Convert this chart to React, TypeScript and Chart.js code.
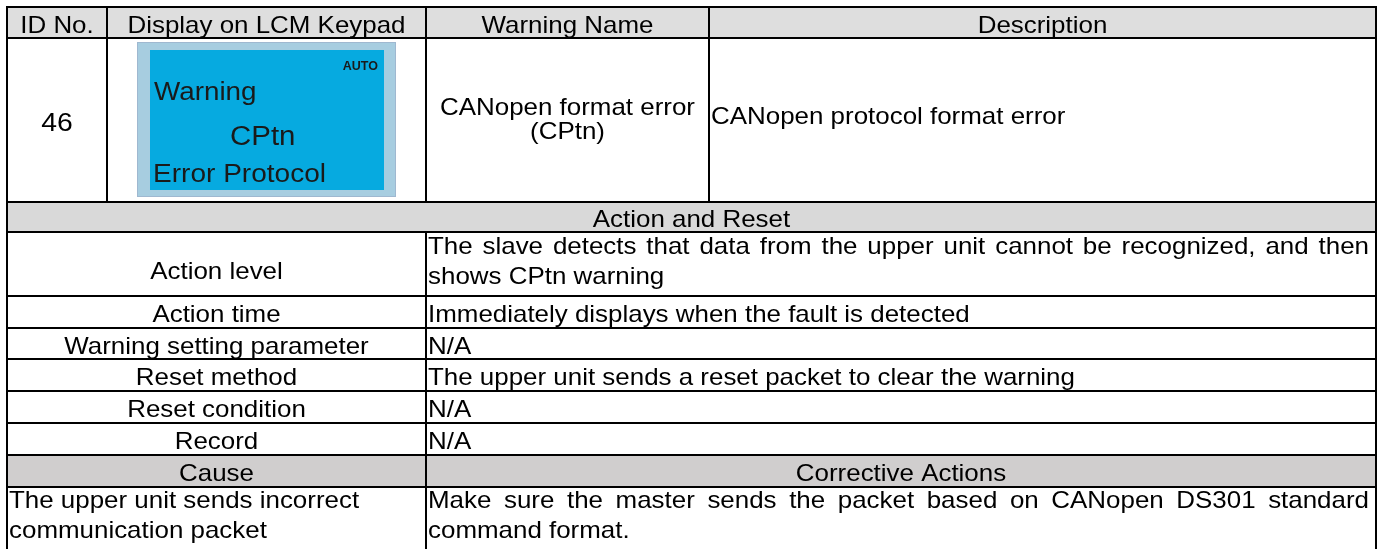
import React, { useEffect, useRef } from "react";
import { Chart, registerables } from "chart.js";

Chart.register(...registerables);

// ---------- data (text content) ----------
const headerLabels = ["ID No.", "Display on LCM Keypad", "Warning Name", "Description"];
const idNumber = "46";
const lcmMode = "AUTO";
const lcmLines = ["Warning", "CPtn", "Error Protocol"];
const warningNameLines = ["CANopen format error", "(CPtn)"];
const descriptionLines = ["CANopen protocol format error"];
const sectionTitle = "Action and Reset";
const actionLabels = [
  "Action level",
  "Action time",
  "Warning setting parameter",
  "Reset method",
  "Reset condition",
  "Record",
];
const actionValues = [
  ["The slave detects that data from the upper unit cannot be recognized, and then", "shows CPtn warning"],
  ["Immediately displays when the fault is detected"],
  ["N/A"],
  ["The upper unit sends a reset packet to clear the warning"],
  ["N/A"],
  ["N/A"],
];
const causeHeaders = ["Cause", "Corrective Actions"];
const causeLines = ["The upper unit sends incorrect", "communication packet"];
const correctiveLines = [
  "Make sure the master sends the packet based on CANopen DS301 standard",
  "command format.",
];

// ---------- layout (value space of the scales) ----------
const COLS = [7, 107, 426, 709, 1376];
const ROW_TOP = 7;
const ROW_HEAD = 38;
const ROW_LCM = 202;
const ROW_SECTION = 232;
const ACTION_ROWS = [296, 328, 359, 391, 423, 455];
const ROW_CAUSE = 487;
const ROW_END = 551;

const FONT = "'Liberation Sans', Arial, Helvetica, sans-serif";
const FS = 24;
const SX = 1.08;

const tablePlugin = {
  id: "tableDraw",
  afterDraw(chart: any) {
    const ctx: CanvasRenderingContext2D = chart.ctx;
    const xs = chart.scales.x;
    const ys = chart.scales.y;
    const X = (v: number) => xs.getPixelForValue(v);
    const Y = (v: number) => ys.getPixelForValue(v);

    const text = (s: string, x: number, y: number, align: CanvasTextAlign, font = `${FS}px ${FONT}`, sx = SX, color = "#000") => {
      ctx.save();
      ctx.font = font;
      ctx.fillStyle = color;
      ctx.textAlign = align;
      ctx.textBaseline = "alphabetic";
      ctx.translate(X(x), Y(y));
      ctx.scale(sx, 1);
      ctx.fillText(s, 0, 0);
      ctx.restore();
    };
    const justify = (s: string, x0: number, x1: number, y: number) => {
      ctx.save();
      ctx.font = `${FS}px ${FONT}`;
      ctx.fillStyle = "#000";
      ctx.textBaseline = "alphabetic";
      ctx.textAlign = "left";
      const words = s.split(" ");
      const widths = words.map((w) => ctx.measureText(w).width);
      const total = widths.reduce((a, b) => a + b, 0);
      const avail = (X(x1) - X(x0)) / SX;
      const gap = (avail - total) / (words.length - 1);
      ctx.translate(X(x0), Y(y));
      ctx.scale(SX, 1);
      let cx = 0;
      words.forEach((w, i) => {
        ctx.fillText(w, cx, 0);
        cx += widths[i] + gap;
      });
      ctx.restore();
    };
    const fillRect = (x0: number, y0: number, x1: number, y1: number, c: string) => {
      ctx.fillStyle = c;
      ctx.fillRect(X(x0), Y(y0), X(x1) - X(x0), Y(y1) - Y(y0));
    };
    const hline = (y: number, x0: number, x1: number) => {
      ctx.beginPath();
      ctx.moveTo(X(x0) - 1, Y(y));
      ctx.lineTo(X(x1) + 1, Y(y));
      ctx.stroke();
    };
    const vline = (x: number, y0: number, y1: number) => {
      ctx.beginPath();
      ctx.moveTo(X(x), Y(y0) - 1);
      ctx.lineTo(X(x), Y(y1) + 1);
      ctx.stroke();
    };
    const mid = (a: number, b: number) => (a + b) / 2;
    const base1 = (t: number, b: number) => mid(t, b) + 10;

    // background
    ctx.save();
    ctx.fillStyle = "#ffffff";
    ctx.fillRect(0, 0, chart.width, chart.height);

    // fills
    const L = COLS[0];
    const R = COLS[4];
    fillRect(L, ROW_TOP, R, ROW_HEAD, "#dedede");
    fillRect(L, ROW_LCM, R, ROW_SECTION, "#d9d9d9");
    const lastAction = ACTION_ROWS[ACTION_ROWS.length - 1];
    fillRect(L, lastAction, R, ROW_CAUSE, "#d0cece");

    // LCM keypad picture
    fillRect(137, 42, 396, 197, "#a7cde0");
    fillRect(150, 50, 384, 190, "#06aae0");
    ctx.strokeStyle = "#9fb8d0";
    ctx.lineWidth = 1;
    ctx.strokeRect(X(137) + 0.5, Y(42) + 0.5, X(396) - X(137) - 1, Y(197) - Y(42) - 1);
    text(lcmMode, 378, 70, "right", `bold 12.5px ${FONT}`, 1.0, "#1a1a1a");
    text(lcmLines[0], 154, 100, "left", `25.5px ${FONT}`, 1.09, "#1a1a1a");
    text(lcmLines[1], 230, 145, "left", `27px ${FONT}`, 1.09, "#1a1a1a");
    text(lcmLines[2], 153, 182, "left", `25.5px ${FONT}`, 1.1, "#1a1a1a");

    // grid lines
    ctx.strokeStyle = "#000";
    ctx.lineWidth = 2;
    const hRows = [ROW_TOP, ROW_HEAD, ROW_LCM, ROW_SECTION, ...ACTION_ROWS, ROW_CAUSE, ROW_END];
    hRows.forEach((y) => hline(y, L, R));
    vline(L, ROW_TOP, ROW_END);
    vline(R, ROW_TOP, ROW_END);
    [COLS[1], COLS[2], COLS[3]].forEach((x) => vline(x, ROW_TOP, ROW_LCM));
    vline(COLS[2], ROW_SECTION, ROW_END);

    // header texts
    headerLabels.forEach((h, i) => {
      text(h, mid(COLS[i], COLS[i + 1]), base1(ROW_TOP, ROW_HEAD), "center");
    });

    // first data row
    text(idNumber, mid(COLS[0], COLS[1]), 131, "center", `26px ${FONT}`, 1.09);
    text(warningNameLines[0], mid(COLS[2], COLS[3]), 115, "center");
    text(warningNameLines[1], mid(COLS[2], COLS[3]), 139, "center");
    text(descriptionLines[0], COLS[3] + 2, 124, "left");

    // section title
    text(sectionTitle, mid(L, R), base1(ROW_LCM, ROW_SECTION), "center");

    // action rows
    const rowTops = [ROW_SECTION, ...ACTION_ROWS];
    actionLabels.forEach((lab, i) => {
      const t = rowTops[i];
      const b = rowTops[i + 1];
      const vals = actionValues[i];
      if (vals.length === 1) {
        text(lab, mid(L, COLS[2]), base1(t, b), "center");
        text(vals[0], COLS[2] + 2, base1(t, b), "left");
      } else {
        text(lab, mid(L, COLS[2]), t + 47, "center");
        justify(vals[0], COLS[2] + 2, R - 7, t + 22);
        text(vals[1], COLS[2] + 2, t + 52, "left");
      }
    });

    // cause header
    text(causeHeaders[0], mid(L, COLS[2]), base1(lastAction, ROW_CAUSE), "center");
    text(causeHeaders[1], mid(COLS[2], R), base1(lastAction, ROW_CAUSE), "center");

    // cause rows
    text(causeLines[0], L + 2, ROW_CAUSE + 21, "left");
    text(causeLines[1], L + 2, ROW_CAUSE + 51, "left");
    justify(correctiveLines[0], COLS[2] + 2, R - 7, ROW_CAUSE + 21);
    text(correctiveLines[1], COLS[2] + 2, ROW_CAUSE + 51, "left");

    ctx.restore();
  },
};

export default function App() {
  const ref = useRef<HTMLCanvasElement | null>(null);
  useEffect(() => {
    if (!ref.current) return;
    const chart = new Chart(ref.current, {
      type: "scatter",
      data: { datasets: [{ data: [], pointRadius: 0 }] },
      options: {
        animation: false,
        responsive: false,
        maintainAspectRatio: false,
        devicePixelRatio: 1,
        layout: { padding: 0 },
        events: [],
        plugins: { legend: { display: false }, tooltip: { enabled: false }, title: { display: false } },
        scales: {
          x: { type: "linear", min: 0, max: 1389, display: false },
          y: { type: "linear", min: 0, max: 549, reverse: true, display: false },
        },
      },
      plugins: [tablePlugin],
    });
    return () => chart.destroy();
  }, []);
  return (
    <div style={{ position: "fixed", left: 0, top: 0, width: 1389, height: 549, background: "#fff" }}>
      <canvas ref={ref} width={1389} height={549} style={{ width: 1389, height: 549, display: "block" }} />
    </div>
  );
}
